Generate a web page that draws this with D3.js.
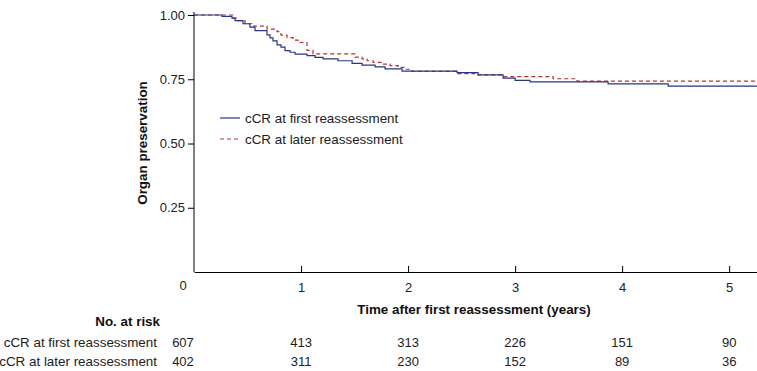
<!DOCTYPE html>
<html>
<head>
<meta charset="utf-8">
<script src="https://cdn.jsdelivr.net/npm/d3@7"></script>
<style>
  body { margin: 0; background: #fff; }
  svg { display: block; font-family: "Liberation Sans", Arial, sans-serif; }
</style>
</head>
<body>
<svg id="chart" width="757" height="371"></svg>
<script>
// ---- Data ----
const seriesNames = ["cCR at first reassessment", "cCR at later reassessment"];
const firstTimes = [0, 0.262, 0.355, 0.383, 0.458, 0.523, 0.570, 0.682, 0.710, 0.738, 0.776, 0.813, 0.850, 0.897, 0.944, 1.056, 1.131, 1.206, 1.346, 1.477, 1.570, 1.692, 1.785, 1.944, 2.458, 2.654, 2.888, 3.000, 3.140, 3.869, 4.430];
const firstSurv  = [1.000, 0.995, 0.988, 0.978, 0.966, 0.953, 0.939, 0.923, 0.911, 0.899, 0.884, 0.875, 0.861, 0.855, 0.848, 0.842, 0.835, 0.829, 0.822, 0.812, 0.805, 0.798, 0.790, 0.782, 0.776, 0.767, 0.754, 0.746, 0.740, 0.732, 0.723];
const laterTimes = [0, 0.364, 0.411, 0.477, 0.542, 0.682, 0.776, 0.813, 0.869, 0.925, 0.972, 1.056, 1.112, 1.505, 1.570, 1.617, 1.673, 1.757, 1.832, 1.907, 1.972, 2.037, 2.458, 2.654, 2.888, 3.355, 3.579];
const laterSurv  = [1.000, 0.988, 0.978, 0.966, 0.957, 0.945, 0.935, 0.922, 0.912, 0.902, 0.893, 0.862, 0.849, 0.836, 0.829, 0.822, 0.816, 0.809, 0.803, 0.796, 0.789, 0.781, 0.772, 0.767, 0.760, 0.752, 0.743];
const xTicks = [1, 2, 3, 4, 5];
const yTicks = [0.25, 0.50, 0.75, 1.00];
const riskTimes = [0, 1, 2, 3, 4, 5];
const riskFirst = [607, 413, 313, 226, 151, 90];
const riskLater = [402, 311, 230, 152, 89, 36];
const tMax = 5.26;

// ---- Layout ----
const svg = d3.select("#chart");
const x = d3.scaleLinear().domain([0, tMax]).range([194, 757]);
const y = d3.scaleLinear().domain([0, 1]).range([272, 15]);
const colors = ["#2b3589", "#b8352c"];
const FS = 13.4, NFS = 13;

function stepPoints(times, surv) {
  const pts = times.map((t, i) => [t, surv[i]]);
  pts.push([tMax, surv[surv.length - 1]]);
  return pts;
}
const line = d3.line().x(d => x(d[0])).y(d => y(d[1])).curve(d3.curveStepAfter);

// Curves
svg.append("path").datum(stepPoints(laterTimes, laterSurv))
  .attr("d", line).attr("fill", "none").attr("stroke", colors[1])
  .attr("stroke-width", 1.2).attr("stroke-dasharray", "4,3");
svg.append("path").datum(stepPoints(firstTimes, firstSurv))
  .attr("d", line).attr("fill", "none").attr("stroke", colors[0])
  .attr("stroke-width", 1.2);

// Y axis (outer ticks)
const yAxis = d3.axisLeft(y).tickValues(yTicks).tickFormat(d3.format(".2f")).tickSize(6).tickPadding(3);
const gy = svg.append("g").attr("transform", "translate(194,0)").call(yAxis);
gy.select(".domain").attr("d", `M0,${y(1)-3}V${y(0)}`).attr("stroke", "#000");
gy.selectAll("text").attr("font-size", NFS).attr("fill", "#222").attr("font-family", "Liberation Sans, Arial, sans-serif");

// X axis (inner ticks)
const xAxis = d3.axisBottom(x).tickValues(xTicks).tickFormat(d3.format("d")).tickSizeInner(-6).tickSizeOuter(0).tickPadding(11);
const gx = svg.append("g").attr("transform", "translate(0,272)").call(xAxis);
gx.select(".domain").attr("stroke", "#000");
gx.selectAll("text").attr("font-size", NFS).attr("fill", "#222").attr("font-family", "Liberation Sans, Arial, sans-serif");

// Origin label
svg.append("text").attr("x", x(0) - 11).attr("y", 290).attr("text-anchor", "middle")
  .attr("font-size", NFS).attr("fill", "#222").text("0");

// Axis titles
svg.append("text").attr("transform", "translate(147,143) rotate(-90)")
  .attr("text-anchor", "middle").attr("font-size", FS).attr("font-weight", "bold").attr("fill", "#111")
  .text("Organ preservation");
svg.append("text").attr("x", 474).attr("y", 314).attr("text-anchor", "middle")
  .attr("font-size", FS).attr("font-weight", "bold").attr("fill", "#111")
  .text("Time after first reassessment (years)");

// Legend
const legendY = [118, 139];
seriesNames.forEach((name, i) => {
  svg.append("line").attr("x1", 220).attr("x2", 240).attr("y1", legendY[i]).attr("y2", legendY[i])
    .attr("stroke", colors[i]).attr("stroke-width", 1.2)
    .attr("stroke-dasharray", i === 1 ? "4,3" : null);
  svg.append("text").attr("x", 245).attr("y", legendY[i] + 4.8)
    .attr("font-size", FS).attr("fill", "#222").text(name);
});

// Risk table
svg.append("text").attr("x", 160).attr("y", 326).attr("text-anchor", "end")
  .attr("font-size", FS).attr("font-weight", "bold").attr("fill", "#111").text("No. at risk");
const rowY = [347, 366];
[riskFirst, riskLater].forEach((row, r) => {
  svg.append("text").attr("x", 157).attr("y", rowY[r]).attr("text-anchor", "end")
    .attr("font-size", FS).attr("fill", "#222").text(seriesNames[r]);
  row.forEach((v, i) => {
    const cx = riskTimes[i] === 0 ? x(0) - 11 : x(riskTimes[i]);
    svg.append("text").attr("x", cx).attr("y", rowY[r]).attr("text-anchor", "middle")
      .attr("font-size", NFS).attr("fill", "#222").text(v);
  });
});
</script>
</body>
</html>
